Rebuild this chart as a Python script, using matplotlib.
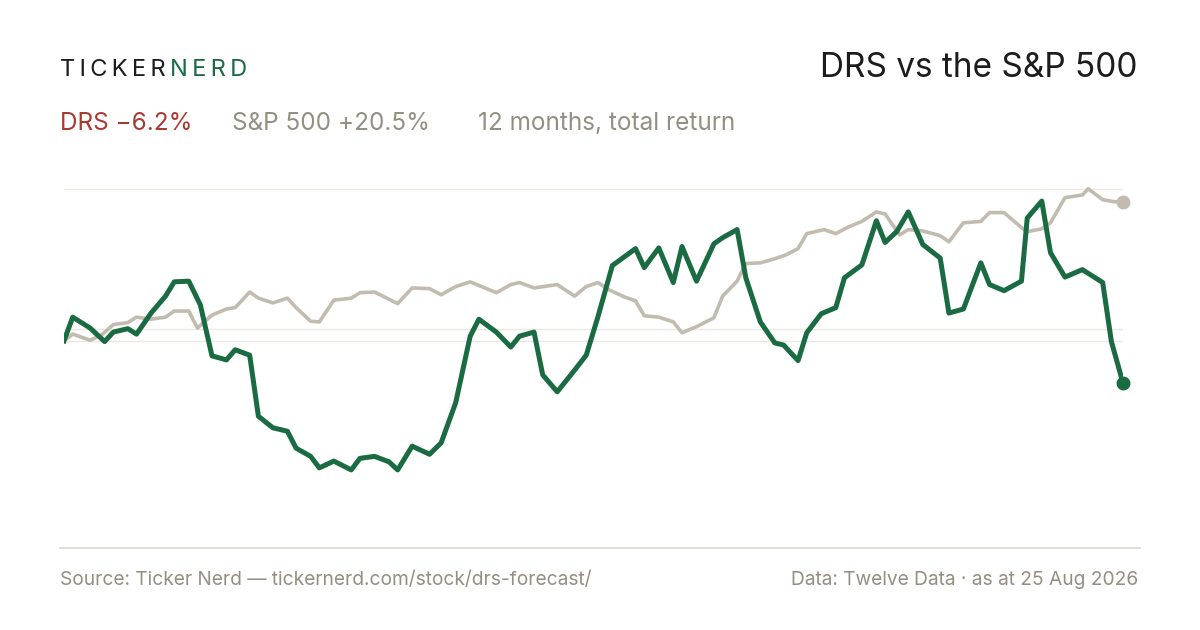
import matplotlib.pyplot as plt

# days since start, % total return
drs_days = [0, 3, 9, 14, 17, 22, 25, 30, 35, 38, 43, 47, 51, 56, 59, 64, 67, 72, 77, 80,
            85, 88, 93, 99, 102, 107, 112, 115, 120, 126, 130, 135, 140, 143, 149, 154, 157, 162, 165, 170,
            176, 180, 184, 189, 197, 200, 205, 210, 213, 218, 224, 227, 232, 235, 240, 245, 248, 253, 256, 261,
            266, 269, 275, 280, 283, 287, 291, 296, 302, 305, 310, 316, 319, 324, 330, 332, 337, 340, 345, 351,
            358, 361, 365]
drs_ret = [0, 3.5, 1.9, -0.1, 1.3, 1.8, 1.0, 4.1, 6.6, 8.7, 8.8, 5.3, -2.2, -2.8, -1.3, -2.1, -11.1, -12.8, -13.3, -15.8,
           -17.0, -18.7, -17.7, -19.0, -17.3, -17.0, -17.8, -19.0, -15.5, -16.7, -15.0, -9.1, 0.7, 3.2, 1.3, -0.9, 0.7, 1.3, -5.0, -7.5,
           -4.3, -2.1, 3.5, 11.1, 13.6, 10.8, 13.7, 8.6, 13.9, 8.8, 14.3, 15.2, 16.4, 9.3, 2.8, -0.3, -0.6, -2.9, 1.2, 4.0,
           4.9, 9.3, 11.2, 17.7, 14.5, 16.1, 19.0, 14.2, 12.2, 4.1, 4.7, 11.5, 8.3, 7.4, 8.8, 18.1, 20.6, 13.0, 9.4, 10.5,
           8.6, -0.1, -6.2]

spx_days = [0, 3, 9, 13, 17, 22, 25, 30, 35, 38, 43, 46, 51, 56, 59, 64, 67, 72, 77, 80,
            85, 88, 93, 99, 102, 107, 115, 120, 126, 130, 135, 140, 149, 154, 157, 162, 170, 176, 180, 184,
            188, 193, 197, 200, 205, 210, 213, 218, 224, 227, 232, 235, 240, 245, 249, 253, 256, 262, 266, 270,
            275, 280, 283, 288, 291, 296, 302, 305, 310, 316, 319, 324, 330, 332, 337, 340, 345, 351, 353, 358,
            362, 365]
spx_ret = [0, 1.0, 0.1, 0.9, 2.4, 2.7, 3.5, 3.2, 3.5, 4.4, 4.4, 1.9, 3.8, 4.7, 4.9, 7.2, 6.3, 5.6, 6.3, 4.9,
           2.9, 2.8, 6.0, 6.3, 7.1, 7.2, 5.5, 7.8, 7.7, 6.8, 8.0, 8.7, 7.1, 8.3, 8.6, 7.8, 8.3, 6.6, 8.0, 8.6,
           7.5, 6.5, 5.9, 3.7, 3.5, 2.8, 1.2, 2.1, 3.4, 6.6, 8.8, 11.4, 11.5, 12.1, 12.7, 13.6, 15.8, 16.4, 15.8, 16.7,
           17.6, 19.0, 18.7, 15.6, 16.4, 16.2, 15.5, 14.6, 17.4, 17.6, 18.9, 18.9, 16.7, 16.1, 16.5, 17.4, 21.1, 21.5, 22.4, 20.8,
           20.5, 20.5]

green = '#1b6b42'
grey_line = '#c2bbb0'
grey_txt = '#958f82'
red = '#a93a30'
dark = '#1c1c1c'

plt.rcParams['font.family'] = ['Inter', 'DejaVu Sans']

W, H = 1200, 630
fig = plt.figure(figsize=(12, 6.3), dpi=100)

def fx(px):
    return px / W

def fy(py):
    return 1 - py / H

# axes from px 64..1123 horizontally, 180..548 vertically
ax = fig.add_axes([fx(64), fy(548), fx(1123) - fx(64), (548 - 180) / H])
ax.set_xlim(0, 365)
ax.set_ylim(-30.5, 23.7)
ax.axis('off')

for g in [22.4, 1.8, 0]:
    ax.axhline(g, color='#ebe8e2', lw=1, zorder=0)

ax.plot(spx_days, spx_ret, color=grey_line, lw=2.6, solid_joinstyle='round', zorder=2)
ax.plot(drs_days, drs_ret, color=green, lw=3.6, solid_joinstyle='round', zorder=3)
ax.plot(spx_days[-1], spx_ret[-1], 'o', color=grey_line, ms=9, zorder=4, clip_on=False)
ax.plot(drs_days[-1], drs_ret[-1], 'o', color=green, ms=9, zorder=4, clip_on=False)

# bottom rule
fig.add_artist(plt.Line2D([fx(60), fx(1140)], [fy(548), fy(548)], color='#dcd8d0', lw=1.2))

# header
hs = '\u2009'
fig.text(fx(60), fy(70), hs.join('TICKER'), color=dark, fontsize=17, va='center', ha='left')
fig.text(fx(170), fy(70), hs.join('NERD'), color=green, fontsize=17, va='center', ha='left')
fig.text(fx(1138), fy(68), 'DRS vs the S&P 500', color=dark, fontsize=24, va='center', ha='right')

fig.text(fx(60), fy(124), 'DRS \u22126.2%', color=red, fontsize=17.5, va='center')
fig.text(fx(232), fy(124), 'S&P 500 +20.5%', color=grey_txt, fontsize=17.5, va='center')
fig.text(fx(478), fy(124), '12 months, total return', color=grey_txt, fontsize=17.5, va='center')

fig.text(fx(60), fy(580), 'Source: Ticker Nerd \u2014 tickernerd.com/stock/drs-forecast/',
         color=grey_txt, fontsize=13.8, va='center')
fig.text(fx(1138), fy(580), 'Data: Twelve Data \u00b7 as at 25 Aug 2026',
         color=grey_txt, fontsize=13.8, va='center', ha='right')

fig.savefig('out.png', dpi=100, facecolor='white')
